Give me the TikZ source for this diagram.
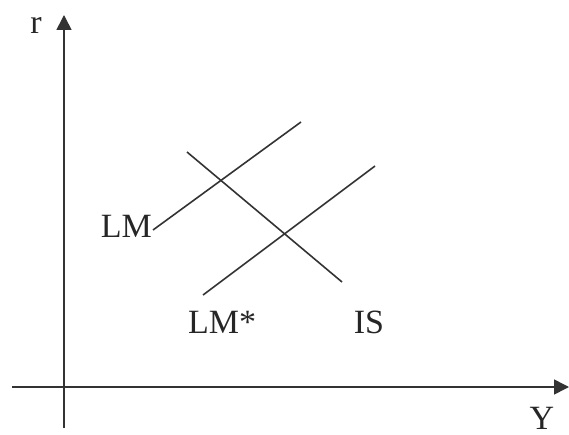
\documentclass[tikz,border=0pt]{standalone}
\usepackage{fontspec}
\setmainfont{Liberation Serif}
\usetikzlibrary{arrows.meta}
\begin{document}
\begin{tikzpicture}[x=1pt,y=-1pt,
  curve/.style={line width=1.6pt,color=black!80},
  axis/.style={line width=1.6pt,color=black!80,-{Triangle[length=15pt,width=15pt]}},
  lbl/.style={font=\fontsize{34}{34}\selectfont,text=black!85,inner sep=0pt}]
\useasboundingbox (0,0) rectangle (569,435);
% axes
\coordinate (yb) at (64,428);
\coordinate (yt) at (64,15);
\coordinate (xl) at (12,387);
\coordinate (xr) at (569,387);
\draw[axis] (yb) -- (yt);
\draw[axis] (xl) -- (xr);
% curves
\coordinate (lm1) at (153,230);
\coordinate (lm2) at (301,122);
\coordinate (is1) at (187,152);
\coordinate (is2) at (342,282);
\coordinate (ls1) at (203,295);
\coordinate (ls2) at (375,166);
\draw[curve] (lm1) -- (lm2);
\draw[curve] (is1) -- (is2);
\draw[curve] (ls1) -- (ls2);
% labels
\node[lbl] (r) at (36,25) {r};
\node[lbl] (Y) at (542,418) {Y};
\node[lbl,anchor=east] (LM) at (152,226) {LM};
\node[lbl] (LMs) at (222,322) {LM*};
\node[lbl] (IS) at (369,322) {IS};
\end{tikzpicture}
\end{document}
